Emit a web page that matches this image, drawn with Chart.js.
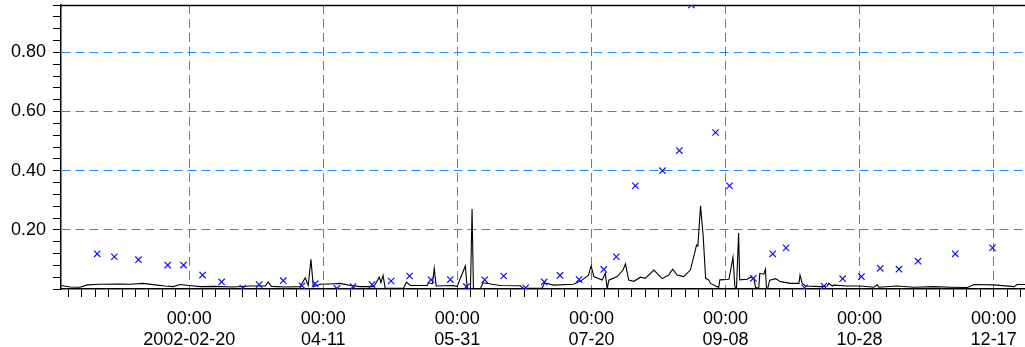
<!DOCTYPE html>
<html>
<head>
<meta charset="utf-8">
<script src="https://cdn.jsdelivr.net/npm/chart.js@4.4.1/dist/chart.umd.min.js"></script>
<style>
  html, body { margin: 0; background: #fff; }
</style>
</head>
<body>
<canvas id="chart" width="1025" height="347"></canvas>
<script>
// days since 2002-01-01 00:00
var lineDays = [2.2, 5.6, 9.3, 12, 16.8, 24.3, 28, 32.8, 37.3, 41, 44, 46.6, 50, 54.1, 59.7, 66.4, 72.8, 78.4, 79.5, 80.6,
  85.8, 91.4, 93.3, 94.4, 95.4, 96.3, 98.9, 104.5, 106.3, 110.1, 113.8, 118.7, 119.4, 120.9, 121.5, 122.3, 123.1, 129.9,
  131.0, 132.5, 138.8, 139.2, 140.7, 141.4, 142.1, 148.5, 149.9, 151.4, 153.0, 153.7, 154.9, 155.5, 156.0, 158.6, 159.6,
  166.0, 173.5, 174.6, 181.6, 182.5, 185.8, 193.3, 196.5, 198.9, 199.9, 200.9, 204.0, 205.2, 205.9, 206.5, 209.6, 211.8,
  212.7, 213.9, 215.8, 218.3, 220.1, 223.3, 226.4, 228.8, 230.3, 232.0, 234.4, 236.9, 238.5, 239.2, 239.7, 240.7, 241.7,
  242.6, 243.8, 244.4, 246.9, 247.5, 247.9, 251.3, 252.8, 253.5, 254.1, 254.9, 255.3, 258.1, 259.3, 260.6, 261.2, 262.4,
  262.8, 264.3, 264.9, 265.3, 265.8, 266.5, 268.7, 270.5, 274.3, 277.4, 277.8, 278.6, 279.9, 285.4, 287.9, 288.5, 289.8,
  290.4, 295.4, 300.4, 305.3, 306.6, 307.2, 314.1, 320.3, 327.7, 334.0, 340.2, 342.7, 350.1, 357.6, 358.8, 362];
var lineVals = [0.012, 0.007, 0.006, 0.014, 0.016, 0.017, 0.016, 0.019, 0.014, 0.010, 0.008, 0.015, 0.012, 0.008, 0.009,
  0.007, 0.010, 0.010, 0.024, 0.009, 0.007, 0.008, 0.038, 0.012, 0.100, 0.008, 0.016, 0.018, 0.019, 0.012, 0.008, 0.008,
  0.016, 0.040, 0.022, 0.046, 0.002, 0.002, 0.023, 0.012, 0.012, 0.021, 0.018, 0.070, 0.010, 0.012, 0.008, 0.042, 0.078,
  0.001, 0.001, 0.270, 0.001, 0.001, 0.021, 0.012, 0.011, 0.002, 0.002, 0.021, 0.013, 0.016, 0.030, 0.047, 0.078, 0.042,
  0.030, 0.053, 0.001, 0.030, 0.042, 0.064, 0.085, 0.030, 0.026, 0.040, 0.036, 0.064, 0.035, 0.047, 0.067, 0.047, 0.042,
  0.064, 0.121, 0.149, 0.145, 0.281, 0.177, 0.036, 0.030, 0.019, 0.008, 0.006, 0.031, 0.033, 0.107, 0.008, 0.001, 0.189,
  0.031, 0.033, 0.040, 0.036, 0.006, 0.002, 0.053, 0.050, 0.067, 0.001, 0.004, 0.030, 0.035, 0.025, 0.019, 0.019, 0.047,
  0.019, 0.010, 0.008, 0.010, 0.019, 0.010, 0.013, 0.010, 0.010, 0.006, 0.014, 0.006, 0.010, 0.006, 0.008, 0.006, 0.005,
  0.015, 0.014, 0.008, 0.015, 0.015];

var markDays = [15.7, 22.1, 31.1, 42.0, 47.9, 55.0, 62.1, 70.0, 76.1, 85.1, 92.1, 97.0, 105.1, 111.1, 118.2, 125.3, 132.2,
  140.2, 147.4, 153.4, 160.2, 167.3, 175.5, 182.4, 188.3, 195.4, 204.6, 209.3, 216.4, 226.5, 232.8, 237.3, 246.3, 251.5,
  260.4, 267.6, 272.6, 279.5, 286.7, 293.7, 300.7, 307.7, 314.7, 321.8, 335.7, 349.6];
var markVals = [0.119, 0.109, 0.099, 0.081, 0.081, 0.047, 0.024, 0.003, 0.015, 0.028, 0.011, 0.018, 0.002, 0.008, 0.015,
  0.027, 0.044, 0.031, 0.032, 0.008, 0.031, 0.044, 0.004, 0.024, 0.046, 0.032, 0.066, 0.109, 0.349, 0.40, 0.468, 0.96,
  0.529, 0.349, 0.036, 0.119, 0.139, 0.004, 0.010, 0.035, 0.042, 0.070, 0.067, 0.094, 0.119, 0.139];

var tickDays = [50, 100, 150, 200, 250, 300, 350];
var tickDates = ['2002-02-20', '04-11', '05-31', '07-20', '09-08', '10-28', '12-17'];
var yLabels = [0.2, 0.4, 0.6, 0.8];

var gridBlue = '#1e8cff';

function isMajorX(v) { return tickDays.indexOf(Math.round(v)) >= 0 && Math.abs(v - Math.round(v)) < 1e-6; }
function isMajorY(v) { return yLabels.some(function(l){ return Math.abs(l - v) < 1e-6; }); }

var lineData = lineDays.map(function(d, i){ return { x: d, y: lineVals[i] }; });
var markData = markDays.map(function(d, i){ return { x: d, y: markVals[i] }; });

// top border of the plot frame
var frame = {
  id: 'frame',
  beforeDatasetsDraw: function(chart){
    var ctx = chart.ctx, a = chart.chartArea;
    ctx.save();
    ctx.strokeStyle = '#000';
    ctx.lineWidth = 1.5;
    ctx.beginPath();
    ctx.moveTo(a.left, a.top + 0.5);
    ctx.lineTo(a.right, a.top + 0.5);
    ctx.stroke();
    ctx.restore();
  }
};

var tickFont = { family: '"Liberation Sans", Arial, Helvetica, sans-serif', size: 18, lineHeight: '21px' };

new Chart(document.getElementById('chart').getContext('2d'), {
  type: 'scatter',
  data: {
    datasets: [
      { type: 'line', data: lineData, borderColor: '#000', borderWidth: 1.1, pointRadius: 0, tension: 0, fill: false, order: 2 },
      { data: markData, pointStyle: 'crossRot', pointRadius: 4.5, borderColor: '#1010ff', pointBorderWidth: 1.2,
        backgroundColor: '#1010ff', clip: 0, order: 1 }
    ]
  },
  plugins: [frame],
  options: {
    responsive: false,
    animation: false,
    layout: { autoPadding: false, padding: { top: 5, right: 0, left: 0, bottom: 0 } },
    plugins: { legend: { display: false }, tooltip: { enabled: false }, title: { display: false } },
    scales: {
      x: {
        type: 'linear', min: 2.2, max: 361.7,
        afterFit: function(s){ s.height = 58; s.paddingLeft = 0; s.paddingRight = 0; },
        border: { color: '#000', width: 1.5, dash: [9, 5] },
        grid: {
          color: function(c){ return isMajorX(c.tick.value) ? gridBlue : 'rgba(0,0,0,0)'; },
          tickColor: '#000', tickBorderDash: [], tickLength: 8, tickWidth: 1
        },
        ticks: {
          stepSize: 5, includeBounds: false, autoSkip: false, maxRotation: 0, minRotation: 0,
          color: '#000', font: tickFont, padding: 12,
          callback: function(v){
            var i = tickDays.indexOf(Math.round(v));
            if (i < 0 || Math.abs(v - Math.round(v)) > 1e-6) return '';
            return ['00:00', tickDates[i]];
          }
        }
      },
      y: {
        min: 0, max: 0.96,
        afterFit: function(s){ s.width = 61; s.paddingTop = 0; s.paddingBottom = 0; },
        border: { color: '#000', width: 1.5, dash: [9, 5] },
        grid: {
          color: function(c){ return isMajorY(c.tick.value) ? gridBlue : 'rgba(0,0,0,0)'; },
          tickColor: '#000', tickBorderDash: [], tickLength: 8, tickWidth: 1
        },
        ticks: {
          stepSize: 0.04, autoSkip: false, color: '#000', font: tickFont, padding: 7,
          callback: function(v){ return isMajorY(v) ? v.toFixed(2) : ''; }
        }
      }
    }
  }
});
</script>
</body>
</html>
